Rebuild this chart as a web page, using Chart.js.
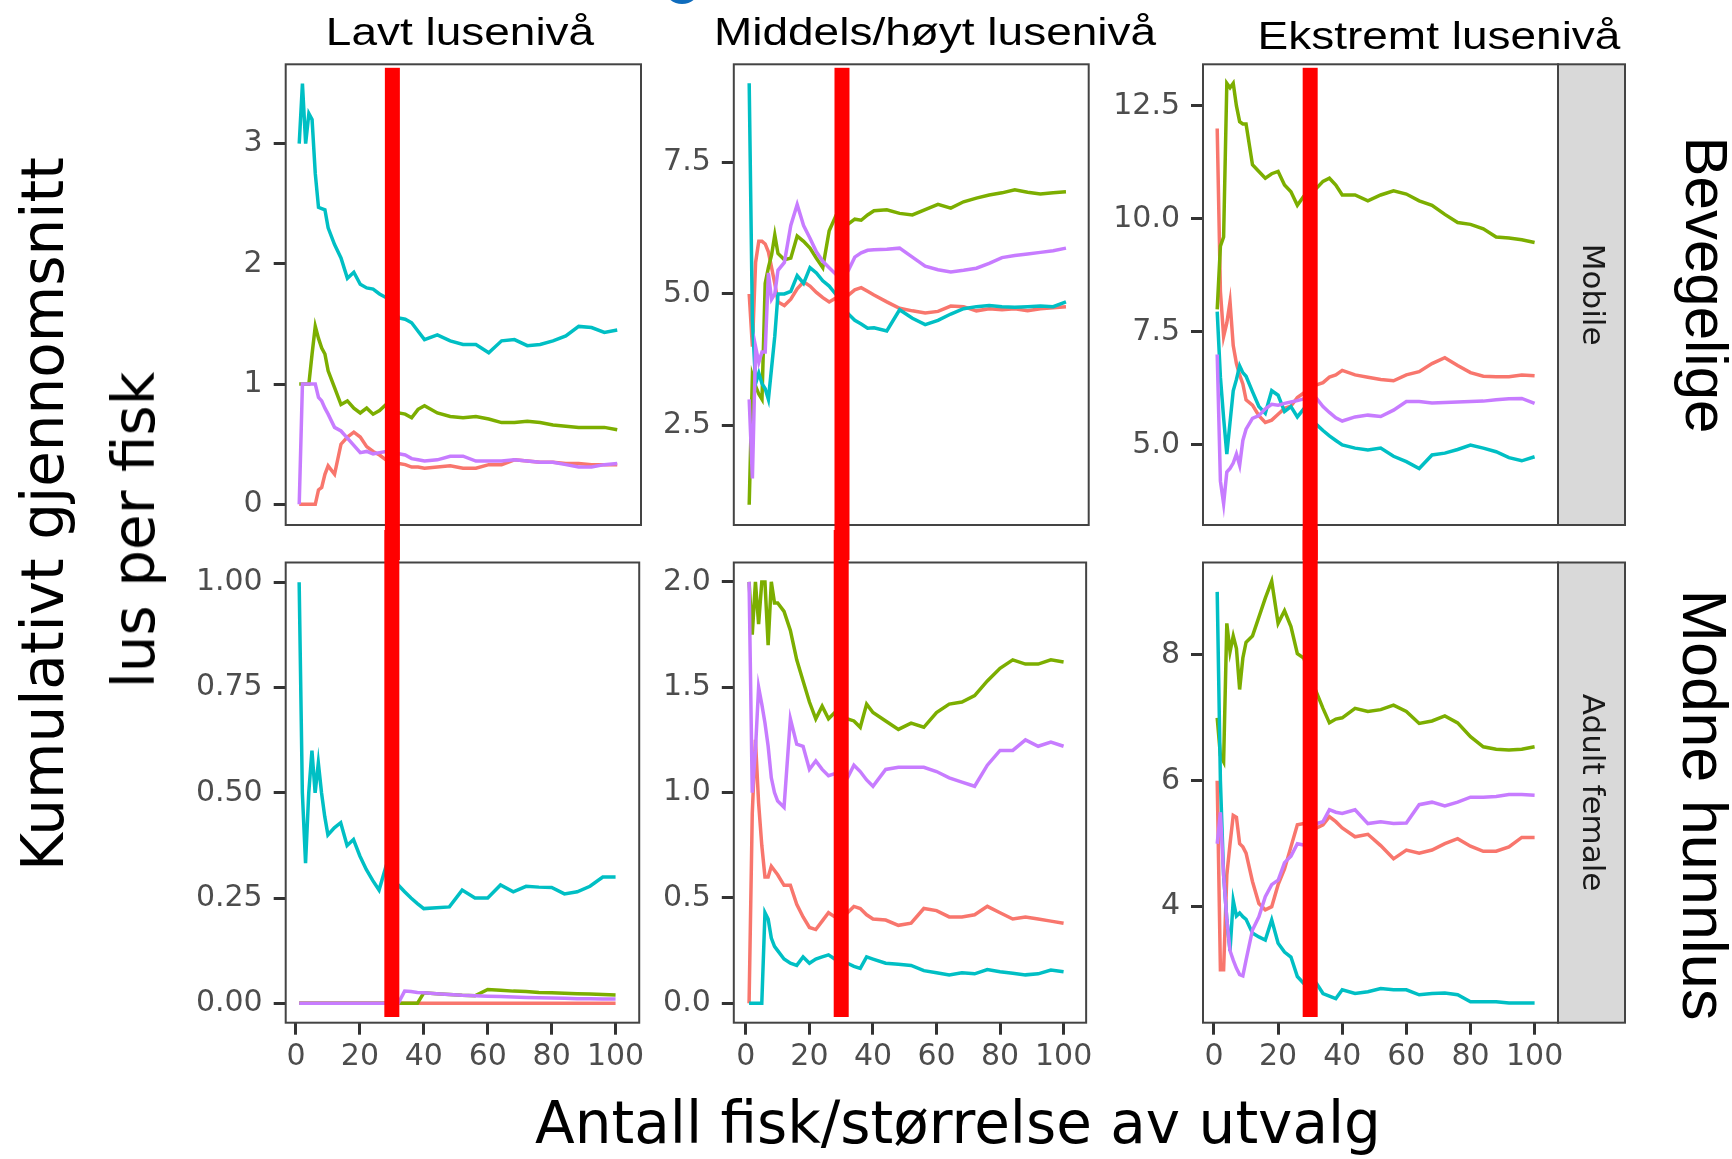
<!DOCTYPE html>
<html><head><meta charset="utf-8">
<script src="https://cdn.jsdelivr.net/npm/chart.js@4.4.1/dist/chart.umd.min.js"></script>
<style>
html,body{margin:0;padding:0;background:#fff;}
#wrap{position:relative;width:1732px;height:1159px;overflow:hidden;background:#fff;}
#wrap canvas{position:absolute;}
.t{position:absolute;white-space:nowrap;line-height:1;color:#000;}
</style></head><body><div id="wrap"></div>
<script>
// ---------- data ----------
const sampleSize = [1,2,3,4,5,6,7,8,9,10,12,14,16,18,20,22,24,26,28,30,32,34,36,38,40,44,48,52,56,60,64,68,72,76,80,84,88,92,96,100];
const xTickValues = [0,20,40,60,80,100];

const colTitles = ['Lavt lusenivå','Middels/høyt lusenivå','Ekstremt lusenivå'];
const rowStrips = ['Mobile','Adult female'];
const rowLabels = ['Bevegelige','Modne hunnlus'];
const yTitleLines = ['Kumulativt gjennomsnitt','lus per fisk'];
const xTitle = 'Antall fisk/størrelse av utvalg';
const cutoffSample = 30;

// Lavt lusenivå - Mobile
const lowMobRed    = [0,0,0,0,0,0,0.12,0.14,0.25,0.32, 0.25,0.5,0.56,0.6,0.56,0.48,0.44,0.41,0.37,0.36,0.34,0.33,0.31,0.31,0.30, 0.31,0.32,0.30,0.30,0.33,0.33,0.37,0.36,0.35,0.35,0.34,0.34,0.33,0.33,0.33];
const lowMobGreen  = [1,1,1,1,1.25,1.48,1.38,1.30,1.25,1.11, 0.97,0.83,0.86,0.80,0.76,0.80,0.75,0.78,0.83,0.80,0.76,0.75,0.72,0.79,0.82, 0.76,0.73,0.72,0.73,0.71,0.68,0.68,0.69,0.68,0.66,0.65,0.64,0.64,0.64,0.62];
const lowMobCyan   = [3.0,3.5,3.0,3.25,3.2,2.75,2.47,2.46,2.45,2.3, 2.16,2.05,1.88,1.93,1.83,1.80,1.79,1.75,1.72,1.65,1.55,1.54,1.51,1.44,1.37, 1.41,1.36,1.33,1.33,1.26,1.36,1.37,1.32,1.33,1.36,1.40,1.48,1.47,1.43,1.45];
const lowMobPurple = [0,1,1,1,1,1,0.89,0.86,0.80,0.75, 0.64,0.61,0.55,0.49,0.43,0.44,0.42,0.43,0.44,0.43,0.42,0.41,0.38,0.37,0.36, 0.37,0.40,0.40,0.36,0.36,0.36,0.37,0.36,0.35,0.35,0.33,0.31,0.31,0.33,0.34];

// Middels/høyt lusenivå - Mobile
const midMobRed    = [5.0,4.0,5.6,6.0,6.0,5.95,5.8,5.5,5.2,4.85, 4.78,4.9,5.1,5.23,5.15,5.03,4.93,4.85,4.92,4.95,4.98,5.08,5.12,5.05,4.98, 4.85,4.73,4.68,4.64,4.67,4.77,4.76,4.68,4.72,4.7,4.72,4.68,4.72,4.74,4.76];
const midMobGreen  = [1.0,3.45,3.25,3.1,3.0,5.2,5.5,5.74,6.12,5.77, 5.65,5.68,6.1,6.0,5.87,5.68,5.5,6.2,6.47,6.4,6.33,6.42,6.4,6.5,6.58, 6.6,6.53,6.5,6.6,6.7,6.63,6.75,6.82,6.88,6.92,6.98,6.93,6.9,6.92,6.94];
const midMobCyan   = [9.0,4.5,3.3,3.5,3.3,3.2,3.0,3.6,4.2,5.0, 5.0,5.05,5.35,5.2,5.5,5.4,5.25,5.15,5.0,4.85,4.62,4.5,4.43,4.35,4.36, 4.3,4.7,4.54,4.42,4.5,4.62,4.72,4.76,4.78,4.76,4.75,4.76,4.77,4.76,4.85];
const midMobPurple = [3.0,1.5,4.0,3.7,3.9,3.9,5.4,4.9,5.0,5.45, 5.6,6.3,6.7,6.3,6.06,5.8,5.62,5.5,5.38,5.27,5.45,5.7,5.78,5.83,5.84, 5.85,5.87,5.7,5.53,5.46,5.42,5.45,5.49,5.58,5.69,5.73,5.76,5.79,5.82,5.87];

// Ekstremt lusenivå - Mobile
const extMobRed    = [12.0,8.4,7.4,7.7,8.17,7.2,6.8,6.55,6.35,6.0, 5.88,5.65,5.5,5.55,5.68,5.81,5.86,6.05,6.15,6.25,6.33,6.38,6.5,6.55,6.65, 6.55,6.5,6.45,6.42,6.55,6.62,6.8,6.93,6.76,6.6,6.52,6.51,6.51,6.55,6.53];
const extMobGreen  = [8.0,9.4,9.6,13.0,12.9,13.0,12.5,12.15,12.1,12.1, 11.2,11.05,10.9,11.0,11.05,10.75,10.6,10.3,10.5,10.6,10.68,10.83,10.9,10.75,10.53, 10.53,10.4,10.53,10.62,10.55,10.4,10.3,10.1,9.92,9.88,9.78,9.6,9.58,9.54,9.48];
const extMobCyan   = [7.95,6.5,5.6,4.8,5.5,6.2,6.45,6.75,6.6,6.52, 6.18,5.85,5.7,6.2,6.1,5.74,5.85,5.62,5.8,5.6,5.45,5.32,5.2,5.1,5.0, 4.93,4.89,4.93,4.75,4.63,4.48,4.78,4.82,4.9,5.0,4.93,4.85,4.72,4.65,4.74];
const extMobPurple = [7.0,4.2,3.7,4.4,4.48,4.6,4.8,4.55,5.1,5.35, 5.59,5.65,5.8,5.9,5.88,5.92,5.95,5.98,6.02,6.03,6.03,5.85,5.72,5.6,5.53, 5.62,5.66,5.63,5.77,5.96,5.96,5.93,5.94,5.95,5.96,5.97,6.0,6.02,6.03,5.92];

// Lavt lusenivå - Adult female
const lowAdfRed    = [0,0,0,0,0,0,0,0,0,0, 0,0,0,0,0,0,0,0,0,0,0,0,0,0,0, 0,0,0,0,0,0,0,0,0,0,0,0,0,0,0];
const lowAdfGreen  = [0,0,0,0,0,0,0,0,0,0, 0,0,0,0,0,0,0,0,0,0,0,0,0,0,0.025, 0.023,0.021,0.019,0.018,0.033,0.031,0.029,0.028,0.026,0.025,0.024,0.023,0.022,0.021,0.020];
const lowAdfCyan   = [1.0,0.5,0.333,0.5,0.6,0.5,0.571,0.5,0.444,0.4, 0.417,0.429,0.375,0.389,0.35,0.318,0.292,0.269,0.321,0.3,0.281,0.265,0.25,0.237,0.225, 0.227,0.229,0.269,0.25,0.25,0.281,0.265,0.278,0.276,0.275,0.26,0.265,0.278,0.3,0.3];
const lowAdfPurple = [0,0,0,0,0,0,0,0,0,0, 0,0,0,0,0,0,0,0,0,0,0,0.029,0.028,0.026,0.025, 0.023,0.021,0.019,0.018,0.017,0.016,0.015,0.014,0.013,0.0125,0.012,0.011,0.011,0.010,0.010];

// Middels/høyt lusenivå - Adult female
const midAdfRed    = [0,0.9,1.25,0.95,0.75,0.6,0.6,0.65,0.63,0.61, 0.56,0.56,0.47,0.41,0.36,0.35,0.39,0.43,0.41,0.42,0.43,0.46,0.45,0.42,0.4, 0.395,0.37,0.38,0.45,0.44,0.41,0.41,0.42,0.46,0.43,0.4,0.41,0.4,0.39,0.38];
const midAdfGreen  = [2.0,1.75,2.0,1.8,2.0,2.0,1.7,2.0,1.9,1.9, 1.86,1.77,1.63,1.53,1.43,1.35,1.41,1.35,1.38,1.37,1.35,1.34,1.31,1.42,1.38, 1.34,1.3,1.33,1.31,1.38,1.42,1.43,1.46,1.53,1.59,1.63,1.61,1.61,1.63,1.62];
const midAdfCyan   = [0,0,0,0,0,0.43,0.4,0.31,0.27,0.25, 0.21,0.19,0.18,0.22,0.19,0.21,0.22,0.23,0.21,0.2,0.19,0.175,0.166,0.22,0.21, 0.19,0.185,0.18,0.155,0.145,0.135,0.145,0.14,0.16,0.15,0.143,0.135,0.14,0.158,0.15];
const midAdfPurple = [2.0,1.0,1.2,1.5,1.42,1.33,1.22,1.07,1.0,0.96, 0.93,1.35,1.23,1.22,1.11,1.15,1.11,1.08,1.09,1.07,1.07,1.13,1.1,1.06,1.03, 1.11,1.12,1.12,1.12,1.1,1.07,1.05,1.03,1.13,1.2,1.2,1.25,1.22,1.24,1.22];

// Ekstremt lusenivå - Adult female
const extAdfRed    = [6.0,3.0,3.0,4.5,5.0,5.45,5.42,5.0,4.95,4.85, 4.4,4.05,3.95,4.0,4.35,4.6,4.95,5.3,5.32,5.3,5.25,5.3,5.43,5.35,5.25, 5.11,5.15,4.97,4.76,4.9,4.85,4.9,5.0,5.08,4.96,4.88,4.88,4.95,5.1,5.1];
const extAdfGreen  = [7.0,6.4,6.3,8.5,8.05,8.3,8.1,7.45,7.95,8.2, 8.3,8.6,8.9,9.17,8.5,8.7,8.45,8.02,7.95,7.65,7.4,7.15,6.92,6.98,7.0, 7.15,7.1,7.13,7.2,7.1,6.91,6.95,7.03,6.92,6.7,6.54,6.5,6.49,6.5,6.54];
const extAdfCyan   = [9.0,6.0,4.5,3.8,3.3,4.1,3.85,3.9,3.84,3.8, 3.58,3.52,3.47,3.79,3.42,3.28,3.2,2.89,2.78,2.75,2.78,2.62,2.58,2.54,2.68, 2.62,2.65,2.7,2.68,2.68,2.6,2.62,2.63,2.6,2.49,2.49,2.49,2.47,2.47,2.47];
const extAdfPurple = [5.0,5.5,4.5,3.8,3.3,3.15,3.02,2.92,2.9,3.15, 3.63,3.84,4.16,4.35,4.42,4.7,4.8,5.0,4.98,5.1,5.32,5.35,5.54,5.5,5.48, 5.54,5.32,5.35,5.32,5.33,5.62,5.66,5.6,5.66,5.74,5.74,5.75,5.78,5.78,5.77];

// y tick values per panel
const lowMobTicks = [0,1,2,3];
const midMobTicks = [2.5,5.0,7.5];
const extMobTicks = [5.0,7.5,10.0,12.5];
const lowAdfTicks = [0,0.25,0.5,0.75,1.0];
const midAdfTicks = [0,0.5,1.0,1.5,2.0];
const extAdfTicks = [4,6,8];

// ---------- layout / style ----------
const COLORS = {red:'#F8766D', green:'#7CAE00', cyan:'#00BFC4', purple:'#C77CFF'};
const cols = [
  {left:285.7, right:641,   xmin:-3.21, xmax:107.4},
  {left:733.8, right:1088.7,xmin:-3.81, xmax:107.1},
  {left:1203,  right:1558,  xmin:-3.43, xmax:107.3}
];
const rows = [
  {ctop:0,   ch:560, top:64.3,  bottom:525,    showX:false},
  {ctop:530, ch:629, top:562.5, bottom:1022.7, showX:true}
];
const YW = 120, XH = 70, STRIPW = 67;

const panels = [
  {r:0,c:0, s:{red:lowMobRed,green:lowMobGreen,cyan:lowMobCyan,purple:lowMobPurple}, ymin:-0.172, ymax:3.66,  ticks:lowMobTicks, dec:0},
  {r:0,c:1, s:{red:midMobRed,green:midMobGreen,cyan:midMobCyan,purple:midMobPurple}, ymin:0.615,  ymax:9.36,  ticks:midMobTicks, dec:1},
  {r:0,c:2, s:{red:extMobRed,green:extMobGreen,cyan:extMobCyan,purple:extMobPurple}, ymin:3.23,   ymax:13.42, ticks:extMobTicks, dec:1, strip:rowStrips[0]},
  {r:1,c:0, s:{red:lowAdfRed,green:lowAdfGreen,cyan:lowAdfCyan,purple:lowAdfPurple}, ymin:-0.046, ymax:1.047, ticks:lowAdfTicks, dec:2},
  {r:1,c:1, s:{red:midAdfRed,green:midAdfGreen,cyan:midAdfCyan,purple:midAdfPurple}, ymin:-0.092, ymax:2.092, ticks:midAdfTicks, dec:1},
  {r:1,c:2, s:{red:extAdfRed,green:extAdfGreen,cyan:extAdfCyan,purple:extAdfPurple}, ymin:2.157,  ymax:9.467, ticks:extAdfTicks, dec:0, strip:rowStrips[1]}
];

const decoPlugin = {
  id:'deco',
  afterDraw(chart, args, o){
    const ctx = chart.ctx, a = chart.chartArea;
    ctx.save();
    if (o.strip){
      ctx.fillStyle = '#D9D9D9';
      ctx.fillRect(a.right, a.top, STRIPW, a.bottom - a.top);
      ctx.strokeStyle = '#444'; ctx.lineWidth = 2;
      ctx.strokeRect(a.right, a.top, STRIPW, a.bottom - a.top);
      ctx.save();
      ctx.translate(a.right + STRIPW/2, (a.top + a.bottom)/2);
      ctx.rotate(Math.PI/2);
      ctx.fillStyle = '#1A1A1A';
      ctx.font = '31px "DejaVu Sans"';
      ctx.textAlign = 'center'; ctx.textBaseline = 'middle';
      ctx.fillText(o.strip, 0, 0);
      ctx.restore();
    }
    ctx.strokeStyle = '#444'; ctx.lineWidth = 2;
    ctx.strokeRect(a.left, a.top, a.right - a.left, a.bottom - a.top);
    const xp = chart.scales.x.getPixelForValue(o.mark);
    const y0 = o.topRow ? a.top + 3.5 : 0;
    const y1 = o.topRow ? chart.height : a.bottom - 5.7;
    ctx.fillStyle = '#FF0000';
    ctx.fillRect(xp - 7.5, y0, 15, y1 - y0);
    ctx.restore();
  }
};

const wrap = document.getElementById('wrap');
const tickFont = {family:'DejaVu Sans', size:30, lineHeight:1};
const gridOpts = {drawOnChartArea:false, drawTicks:true, tickLength:12, tickWidth:3, tickColor:'#333', lineWidth:3, color:'#333'};

panels.forEach(p => {
  const col = cols[p.c], row = rows[p.r];
  const padRWanted = p.strip ? 75 : 12;
  const cl = Math.floor(col.left - YW);
  const padL = col.left - YW - cl;
  const cw = Math.ceil(col.right + padRWanted) - cl;
  const padR = cl + cw - col.right;
  const padT = row.top - row.ctop;
  const padB = row.ctop + row.ch - row.bottom - (row.showX ? XH : 0);
  const c = document.createElement('canvas');
  c.width = cw; c.height = row.ch;
  c.style.left = cl + 'px'; c.style.top = row.ctop + 'px';
  c.style.width = cw + 'px'; c.style.height = row.ch + 'px';
  wrap.appendChild(c);
  const order = ['purple','cyan','green','red'];
  new Chart(c, {
    type:'line',
    data:{datasets: order.map(k => ({
      label:k,
      data: sampleSize.map((x,i) => ({x:x, y:p.s[k][i]})),
      borderColor: COLORS[k], backgroundColor: COLORS[k],
      borderWidth:3.5, pointRadius:0, tension:0, fill:false
    }))},
    options:{
      responsive:false, animation:false, events:[],
      layout:{padding:{left:padL, right:padR, top:padT, bottom:padB}},
      plugins:{legend:{display:false}, tooltip:{enabled:false}, title:{display:false},
        deco:{strip:p.strip || null, mark:cutoffSample, topRow:p.r === 0}},
      scales:{
        x:{type:'linear', min:col.xmin, max:col.xmax, display:row.showX,
          afterBuildTicks: s => { s.ticks = xTickValues.map(v => ({value:v})); },
          afterFit: s => { s.height = row.showX ? XH : 0; },
          grid:gridOpts, border:{display:false},
          ticks:{autoSkip:false, maxRotation:0, minRotation:0, padding:8, color:'#4D4D4D', font:tickFont,
            callback: v => String(v)}},
        y:{type:'linear', min:p.ymin, max:p.ymax,
          afterBuildTicks: s => { s.ticks = p.ticks.map(v => ({value:v})); },
          afterFit: s => { s.width = YW; },
          grid:gridOpts, border:{display:false},
          ticks:{padding:11, color:'#4D4D4D', font:tickFont,
            callback: v => Number(v).toFixed(p.dec)}}
      }
    },
    plugins:[decoPlugin]
  });
});

// ---------- text ----------
function addText(txt, css){
  const d = document.createElement('div');
  d.className = 't'; d.textContent = txt;
  Object.assign(d.style, css);
  wrap.appendChild(d);
  return d;
}
// blue fragment at top edge
const blob = document.createElement('div');
Object.assign(blob.style,{position:'absolute',left:'665px',top:'-26px',width:'34px',height:'30px',borderRadius:'50%',background:'#0F6CBD'});
wrap.appendChild(blob);

const titleCx = [460, 935, 1439], titleBase = [45, 45, 49];
colTitles.forEach((t,i) => addText(t, {
  fontFamily:'"Liberation Sans", Arial, sans-serif', fontSize:'38px',
  left:titleCx[i]+'px', top:(titleBase[i]-32.2)+'px',
  transform:'translateX(-50%) scaleX(1.21)'
}));
// y axis title (two lines, rotated)
addText(yTitleLines[0], {fontFamily:'"DejaVu Sans"', fontSize:'58px', left:'43px', top:'514px',
  transform:'translate(-50%,-50%) rotate(-90deg)'});
addText(yTitleLines[1], {fontFamily:'"DejaVu Sans"', fontSize:'58px', left:'134px', top:'530px',
  transform:'translate(-50%,-50%) rotate(-90deg)'});
// x axis title
addText(xTitle, {fontFamily:'"DejaVu Sans"', fontSize:'58px', left:'958px', top:'1094px',
  transform:'translateX(-50%)'});
// row labels right
addText(rowLabels[0], {fontFamily:'"Liberation Sans", Arial, sans-serif', fontSize:'60px', left:'1705.5px', top:'285px',
  transform:'translate(-50%,-50%) rotate(90deg)'});
addText(rowLabels[1], {fontFamily:'"Liberation Sans", Arial, sans-serif', fontSize:'63px', left:'1703.8px', top:'805px',
  transform:'translate(-50%,-50%) rotate(90deg)'});
</script>
</body></html>
